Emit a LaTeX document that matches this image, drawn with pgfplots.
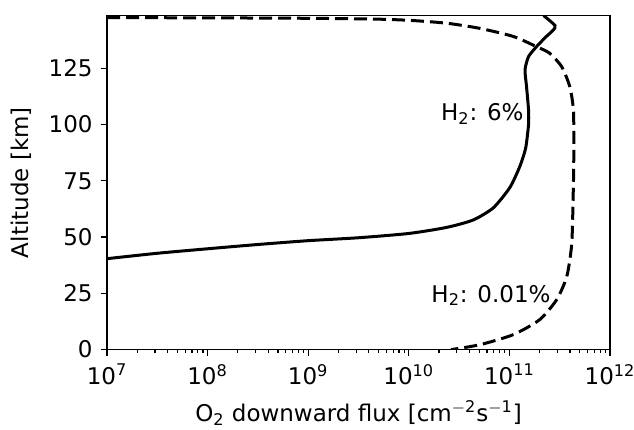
\documentclass[border=0pt]{standalone}
\usepackage{fontspec}
\setmainfont{DejaVu Sans}
\usepackage{pgfplots}
\pgfplotsset{compat=1.18}

\begin{document}
\fontsize{11.5}{13.8}\selectfont
\begin{tikzpicture}
\begin{axis}[
  scale only axis,
  width=251.5pt,
  height=167pt,
  xmode=log,
  xmin=1e7, xmax=1e12,
  ymin=0, ymax=148.4,
  xtick={1e7,1e8,1e9,1e10,1e11,1e12},
  xticklabels={10\textsuperscript{7},10\textsuperscript{8},10\textsuperscript{9},10\textsuperscript{10},10\textsuperscript{11},10\textsuperscript{12}},
  minor xtick={2e7,3e7,4e7,5e7,6e7,7e7,8e7,9e7,2e8,3e8,4e8,5e8,6e8,7e8,8e8,9e8,
    2e9,3e9,4e9,5e9,6e9,7e9,8e9,9e9,2e10,3e10,4e10,5e10,6e10,7e10,8e10,9e10,
    2e11,3e11,4e11,5e11,6e11,7e11,8e11,9e11},
  ytick={0,25,50,75,100,125},
  /pgf/number format/assume math mode=true,
  tick align=outside,
  xtick pos=bottom, ytick pos=left,
  major tick length=3.2pt,
  minor tick length=1.8pt,
  every tick/.style={black, line width=0.6pt},
  axis line style={line width=0.8pt},
  tick label style={font=\fontsize{11.5}{13.8}\selectfont},
  label style={font=\fontsize{11.5}{13.8}\selectfont},
  xlabel={O\textsubscript{2} downward flux [cm\textsuperscript{$-$2}s\textsuperscript{$-$1}]},
  ylabel={Altitude [km]},
  xlabel style={yshift=0pt},
  ylabel style={yshift=0.5pt},
  clip=true,
]
% H2: 6%
\addplot[black, line width=1.5pt, smooth, tension=0.4] coordinates {
  (1e7,40.4) (3.16e7,42.8) (1e8,44.8) (3.16e8,46.7) (1e9,48.4)
  (3.16e9,49.7) (1e10,51.6) (2.38e10,54.3) (4.37e10,57.6)
  (6.92e10,63.0) (1.01e11,72.0) (1.27e11,81.4) (1.45e11,89.5)
  (1.55e11,100) (1.55e11,106.5) (1.48e11,116.9) (1.43e11,124.3)
  (1.55e11,130.2) (1.86e11,134.6) (2.29e11,138.8) (2.73e11,142.0)
  (2.84e11,144.0) (2.19e11,148.4)
};
% H2: 0.01%
\addplot[black, line width=1.5pt, dash pattern=on 6.5pt off 3pt, smooth, tension=0.4] coordinates {
  (1e7,147.5) (1e8,147.4) (1e9,147.2) (5.13e9,146.8) (1.10e10,146.2)
  (2.40e10,145.0) (5.13e10,142.7) (1.10e11,139.1) (1.86e11,134.6)
  (2.51e11,131.7) (3.31e11,125.7) (3.98e11,116.9) (4.33e11,106.5)
  (4.37e11,90) (4.33e11,74) (4.17e11,47.4) (3.72e11,32.5)
  (2.95e11,22.2) (2.00e11,13.3) (1.10e11,6.7) (5.13e10,2.2) (2.63e10,0.0)
};
\node[anchor=east, inner sep=1pt] at (axis cs:1.46e11,104.7) {H\textsubscript{2}: 6\%};
\node[anchor=east, inner sep=1pt] at (axis cs:2.71e11,24.0) {H\textsubscript{2}: 0.01\%};
\end{axis}
\pgfresetboundingbox
\path ([xshift=-53.5pt,yshift=-40pt]current axis.south west) rectangle ([xshift=12pt,yshift=7.8pt]current axis.north east);
\end{tikzpicture}
\end{document}
